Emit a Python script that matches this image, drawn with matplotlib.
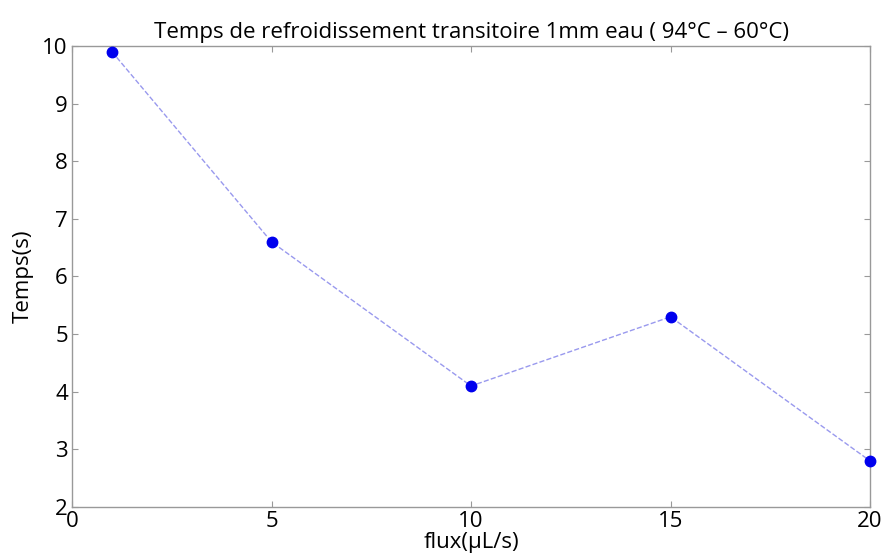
import matplotlib.pyplot as plt

flux = [1, 5, 10, 15, 20]
temps = [9.9, 6.6, 4.1, 5.3, 2.8]

plt.rcParams['font.family'] = ['Open Sans', 'DejaVu Sans']

fig = plt.figure(figsize=(8.86, 5.6), dpi=100)
ax = fig.add_axes([0.0813, 0.0946, 0.9007, 0.8234])

ax.plot(flux, temps, linestyle='--', color='#9999ee', linewidth=1, zorder=2)
ax.plot(flux, temps, 'o', color='#0000ee', markersize=7.5, clip_on=False, zorder=3)

ax.set_xlim(0, 20)
ax.set_ylim(2, 10)
ax.set_xticks([0, 5, 10, 15, 20])
ax.set_yticks(range(2, 11))

for s in ax.spines.values():
    s.set_color('#999999')
    s.set_linewidth(1)
ax.tick_params(direction='in', length=4, color='#999999', labelsize=16, top=True, right=True,
               labeltop=False, labelright=False, pad=3)

ax.set_title('Temps de refroidissement transitoire 1mm eau ( 94°C \u2013 60°C)', fontsize=16, pad=6)
ax.set_xlabel('flux(µL/s)', fontsize=16, labelpad=0)
ax.set_ylabel('Temps(s)', fontsize=16, labelpad=6)

fig.savefig('out.png', dpi=100)
